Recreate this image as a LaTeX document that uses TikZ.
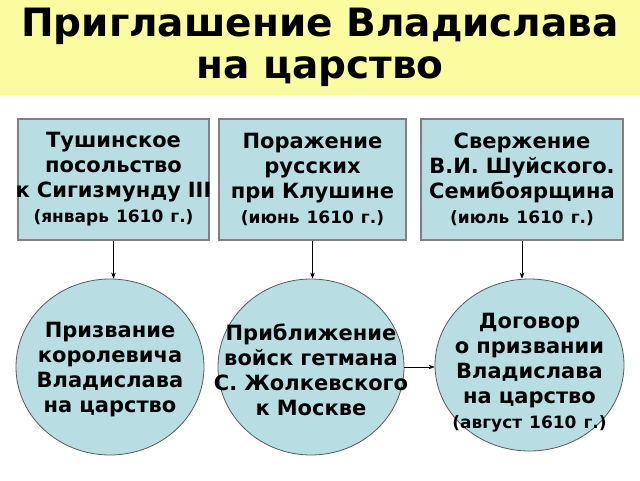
\documentclass[tikz,border=0pt]{standalone}
\usepackage{fontspec}
\setmainfont{DejaVu Sans}
\usetikzlibrary{arrows.meta,shapes.geometric}
\definecolor{ttlyellow}{RGB}{251,251,160}
\definecolor{evblue}{RGB}{184,222,228}
\definecolor{evgray}{RGB}{128,128,128}
\definecolor{evdark}{RGB}{90,90,90}

\begin{document}
\begin{tikzpicture}[x=1pt,y=-1pt,
  titleband/.style={fill=ttlyellow, minimum width=640pt, minimum height=95pt, inner sep=0pt,
    align=center, font=\bfseries\fontsize{39}{42}\selectfont},
  evbox/.style={draw=evgray, fill=evblue, line width=1.2pt, minimum height=121pt, inner sep=0pt,
    text width=180pt, align=center, font=\bfseries\fontsize{21}{25}\selectfont},
  evcirc/.style={ellipse, draw=evdark, fill=evblue, line width=0.8pt, inner sep=0pt},
  evtext/.style={inner sep=0pt, text width=210pt, align=center,
    font=\bfseries\fontsize{21}{25}\selectfont},
  conn/.style={draw=black, line width=0.6pt, -{Stealth[length=6pt,width=4.5pt]}}]
\useasboundingbox (0,0) rectangle (640,480);
% Title
\node[titleband] (title) at (320,47.5) {Приглашение Владислава\\на царство};
% Upper row: events
\node[evbox, minimum width=191pt] (tush) at (113.5,179.5)
  {Тушинское\\посольство\\\makebox[\linewidth][c]{к Сигизмунду III}\\{\fontsize{17}{23}\selectfont (январь 1610 г.)}};
\node[evbox, minimum width=187pt] (klush) at (312.5,179.5)
  {Поражение\\русских\\при Клушине\\{\fontsize{17}{23}\selectfont (июнь 1610 г.)}};
\node[evbox, minimum width=202pt, text width=198pt] (shuj) at (522,179.5)
  {Свержение\\В.И.~Шуйского.\\Семибоярщина\\{\fontsize{17}{23}\selectfont (июль 1610 г.)}};
% Lower row: consequences
\node[evcirc, minimum width=188pt, minimum height=176pt] (call) at (110,367) {};
\node[evtext] (calltxt) at (110,370) {Призвание\\королевича\\Владислава\\на царство};
\node[evcirc, minimum width=186pt, minimum height=176pt] (zholk) at (311,367) {};
\node[evtext] (zholktxt) at (311,370) {Приближение\\войск гетмана\\С. Жолкевского\\к Москве};
\node[evcirc, minimum width=189pt, minimum height=172pt] (treaty) at (529.5,365) {};
\node[evtext] (treatytxt) at (529.5,373) {Договор\\о призвании\\Владислава\\на царство\\{\fontsize{17}{23}\selectfont (август 1610 г.)}};
% Connectors
\draw[conn] (tush.south) -- (tush.south |- call.north);
\draw[conn] (klush.south) -- (klush.south |- zholk.north);
\draw[conn] (shuj.south) -- (shuj.south |- treaty.north);
\draw[conn] (zholk.east) -- (zholk.east -| treaty.west);
\end{tikzpicture}
\end{document}
